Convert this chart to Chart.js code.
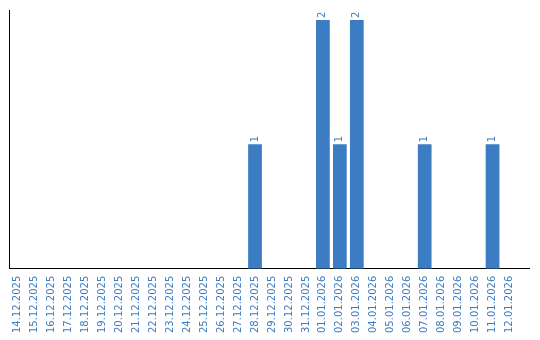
<!DOCTYPE html>
<html>
<head>
    <title>Daily count</title>
    <style>
        html, body {
            margin: 0;
            padding: 0;
            background: #ffffff;
        }
        #chart-container {
            width: 540px;
            height: 340px;
        }
    </style>
    <script src="https://cdn.jsdelivr.net/npm/chart.js"></script>
</head>
<body>
    <div id="chart-container">
        <canvas id="dailyChart"></canvas>
    </div>
    <script>
        const dates = [
            '14.12.2025', '15.12.2025', '16.12.2025', '17.12.2025', '18.12.2025',
            '19.12.2025', '20.12.2025', '21.12.2025', '22.12.2025', '23.12.2025',
            '24.12.2025', '25.12.2025', '26.12.2025', '27.12.2025', '28.12.2025',
            '29.12.2025', '30.12.2025', '31.12.2025', '01.01.2026', '02.01.2026',
            '03.01.2026', '04.01.2026', '05.01.2026', '06.01.2026', '07.01.2026',
            '08.01.2026', '09.01.2026', '10.01.2026', '11.01.2026', '12.01.2026'
        ];
        const counts = [
            0, 0, 0, 0, 0,
            0, 0, 0, 0, 0,
            0, 0, 0, 0, 1,
            0, 0, 0, 2, 1,
            2, 0, 0, 0, 1,
            0, 0, 0, 1, 0
        ];

        const barColor = '#3b7cc2';
        const fontFamily = "'DejaVu Sans', Verdana, sans-serif";

        // rotated value labels just above each bar
        const valueLabels = {
            id: 'valueLabels',
            afterDatasetsDraw(chart) {
                const ctx = chart.ctx;
                const meta = chart.getDatasetMeta(0);
                ctx.save();
                ctx.font = '10px ' + fontFamily;
                ctx.fillStyle = barColor;
                ctx.textAlign = 'left';
                ctx.textBaseline = 'middle';
                meta.data.forEach(function(bar, i) {
                    if (!counts[i]) return;
                    ctx.save();
                    ctx.translate(bar.x, bar.y - 2);
                    ctx.rotate(-Math.PI / 2);
                    ctx.fillText(String(counts[i]), 0, 0);
                    ctx.restore();
                });
                ctx.restore();
            }
        };

        // x axis line runs a bit past the last category
        const axisTail = {
            id: 'axisTail',
            afterDraw(chart) {
                const ctx = chart.ctx;
                const area = chart.chartArea;
                const y = Math.round(chart.scales.x.top - 0.5) + 0.5;
                ctx.save();
                ctx.strokeStyle = '#000';
                ctx.lineWidth = 1;
                ctx.beginPath();
                ctx.moveTo(area.right - 1, y);
                ctx.lineTo(area.right + 12, y);
                ctx.stroke();
                ctx.restore();
            }
        };

        new Chart(document.getElementById('dailyChart'), {
            type: 'bar',
            data: {
                labels: dates,
                datasets: [{
                    data: counts,
                    backgroundColor: barColor,
                    barPercentage: 0.9,
                    categoryPercentage: 0.9
                }]
            },
            options: {
                responsive: true,
                maintainAspectRatio: false,
                animation: false,
                layout: {
                    padding: { left: 9, right: 22, top: 10, bottom: 0 }
                },
                plugins: {
                    legend: { display: false },
                    tooltip: { enabled: false }
                },
                scales: {
                    x: {
                        grid: { display: false, drawTicks: false },
                        border: { display: true, color: '#000', width: 1 },
                        ticks: {
                            color: barColor,
                            font: { family: fontFamily, size: 10 },
                            maxRotation: 90,
                            minRotation: 90,
                            autoSkip: false,
                            padding: 7
                        }
                    },
                    y: {
                        min: 0,
                        max: Math.max(...counts) * 1.04,
                        grid: { display: false, drawTicks: false },
                        border: { display: true, color: '#000', width: 1 },
                        ticks: { display: false }
                    }
                }
            },
            plugins: [valueLabels, axisTail]
        });
    </script>
</body>
</html>
